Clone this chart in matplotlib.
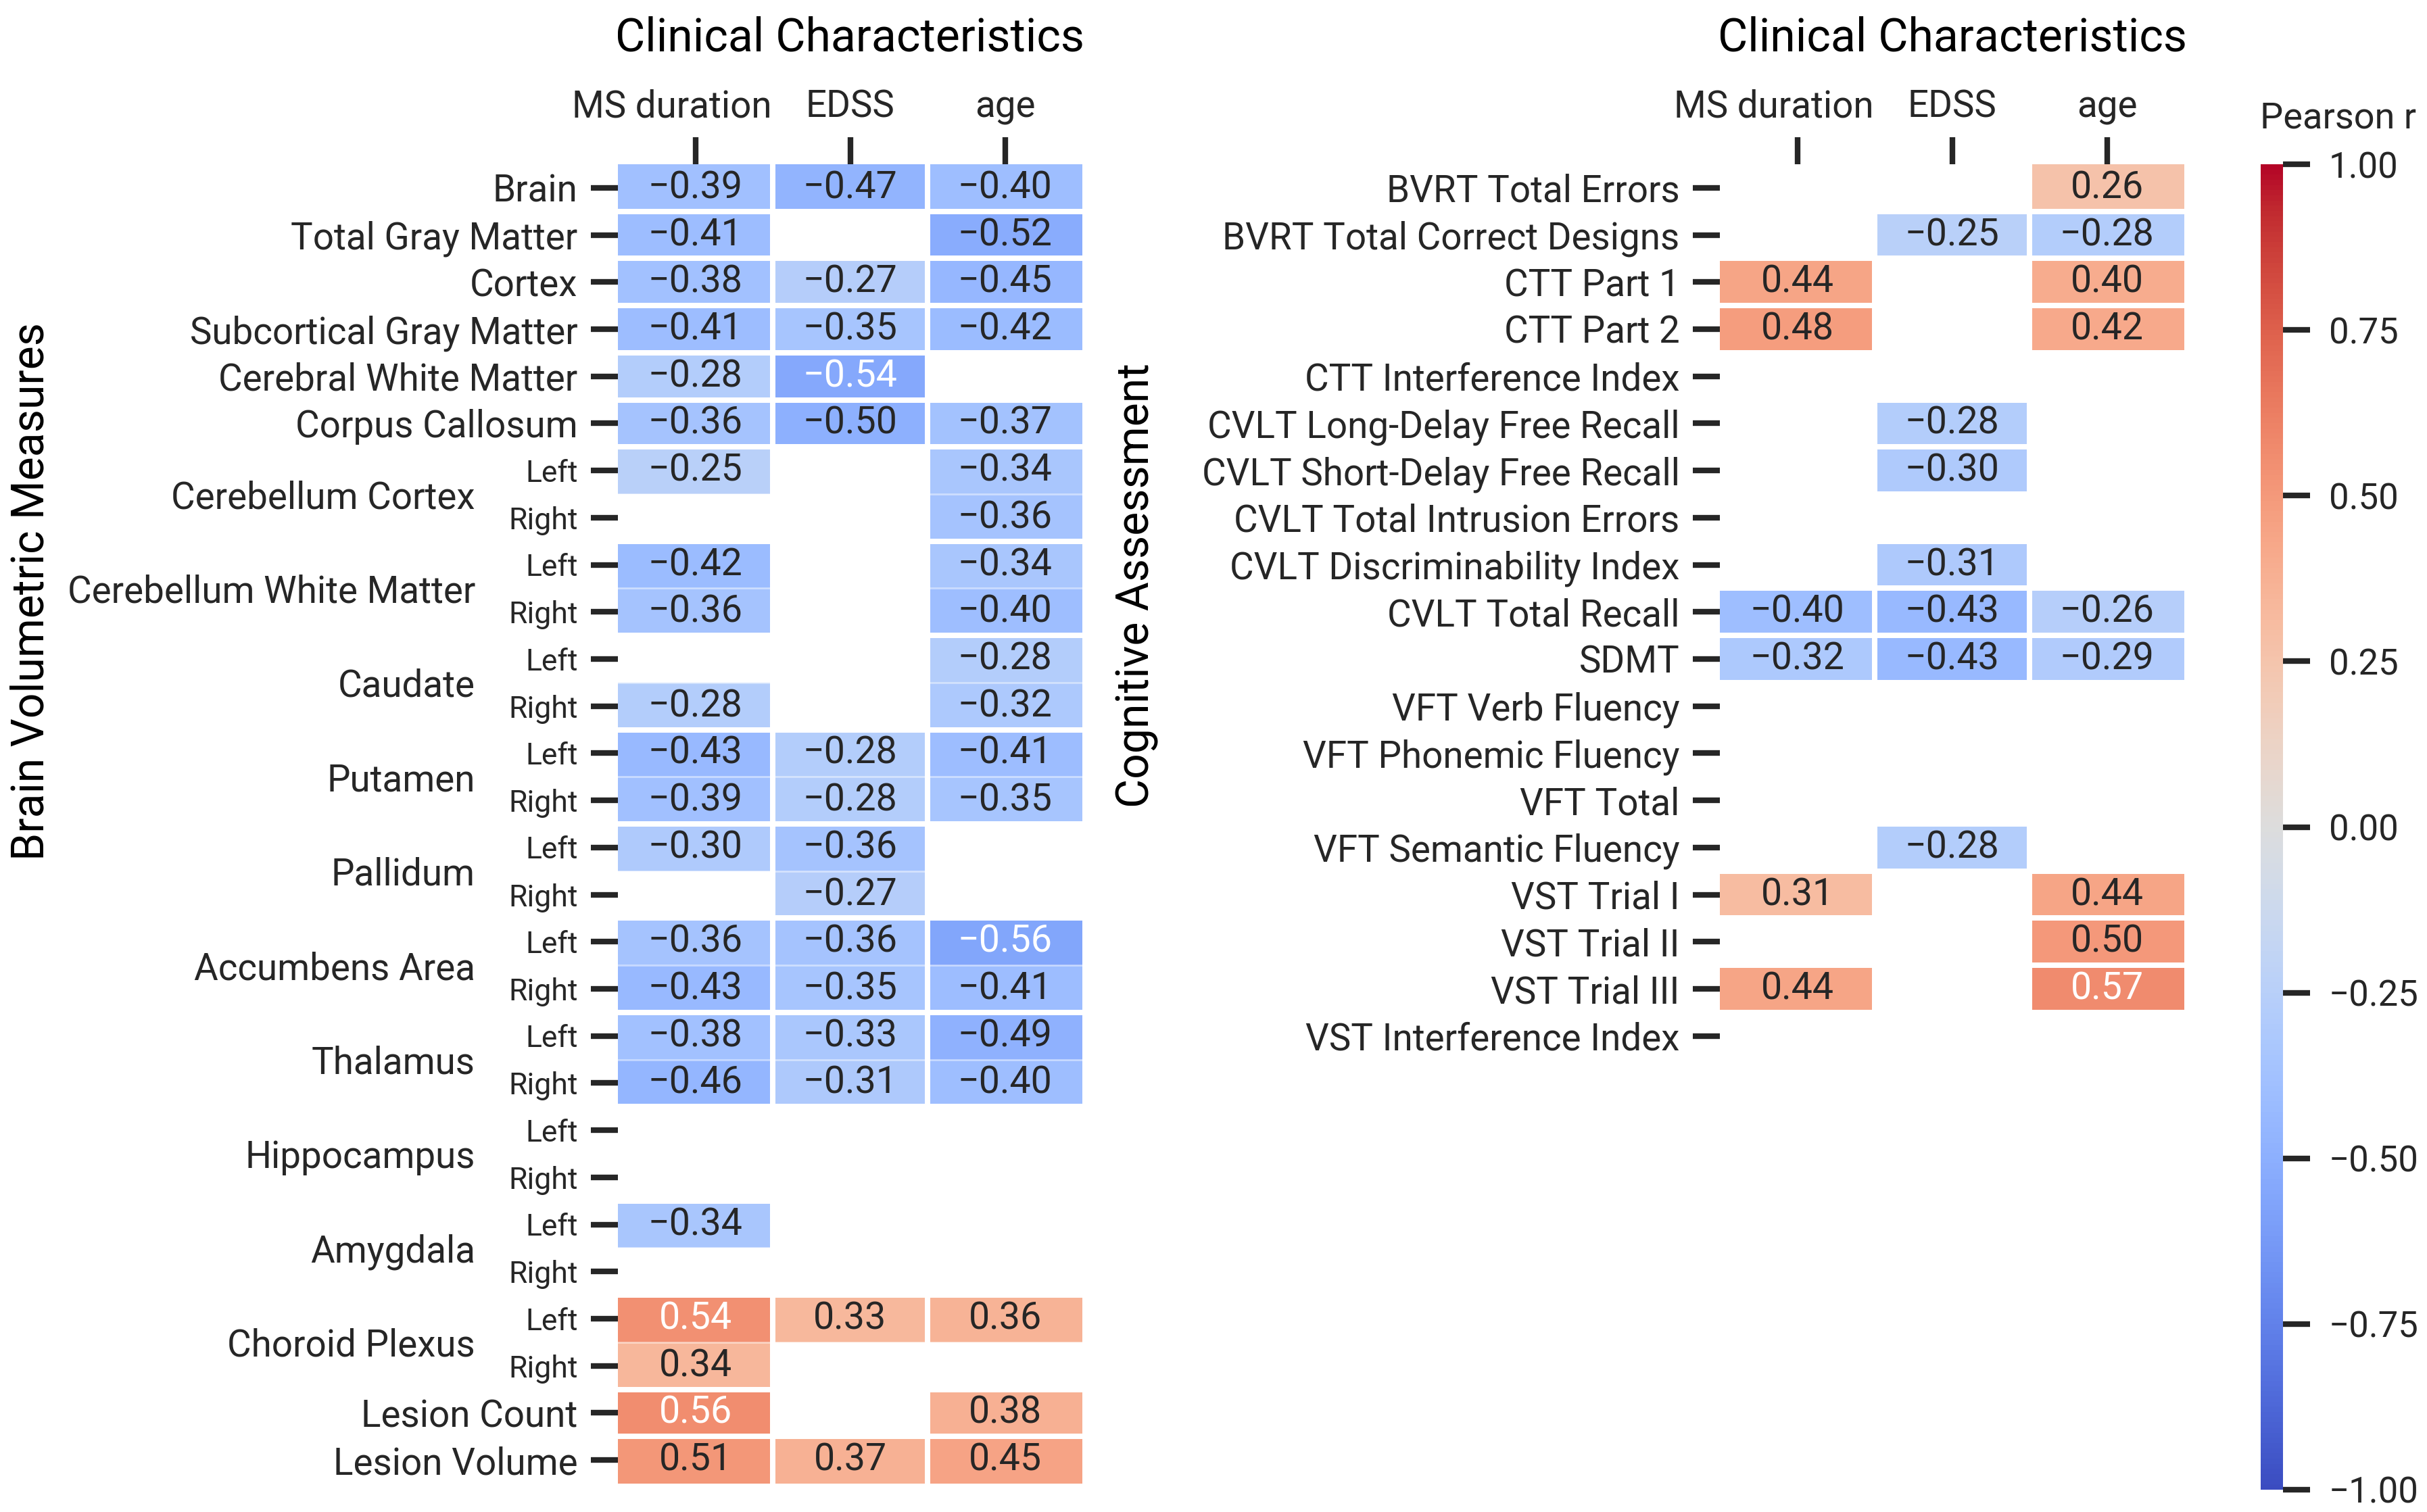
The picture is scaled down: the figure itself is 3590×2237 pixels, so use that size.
import numpy as np
import matplotlib
matplotlib.use('Agg')
import matplotlib.pyplot as plt
from matplotlib.ticker import FuncFormatter
from matplotlib.transforms import ScaledTranslation

nan = np.nan

clin_cols = ['MS duration', 'EDSS', 'age']

# brain volumetric rows: (structure, side)
brain_rows = [
    ('Brain', None), ('Total Gray Matter', None), ('Cortex', None),
    ('Subcortical Gray Matter', None), ('Cerebral White Matter', None),
    ('Corpus Callosum', None),
    ('Cerebellum Cortex', 'Left'), ('Cerebellum Cortex', 'Right'),
    ('Cerebellum White Matter', 'Left'), ('Cerebellum White Matter', 'Right'),
    ('Caudate', 'Left'), ('Caudate', 'Right'),
    ('Putamen', 'Left'), ('Putamen', 'Right'),
    ('Pallidum', 'Left'), ('Pallidum', 'Right'),
    ('Accumbens Area', 'Left'), ('Accumbens Area', 'Right'),
    ('Thalamus', 'Left'), ('Thalamus', 'Right'),
    ('Hippocampus', 'Left'), ('Hippocampus', 'Right'),
    ('Amygdala', 'Left'), ('Amygdala', 'Right'),
    ('Choroid Plexus', 'Left'), ('Choroid Plexus', 'Right'),
    ('Lesion Count', None), ('Lesion Volume', None),
]
brain_ms_duration = [-0.39, -0.41, -0.38, -0.41, -0.28, -0.36, -0.25, nan, -0.42, -0.36,
                     nan, -0.28, -0.43, -0.39, -0.30, nan, -0.36, -0.43, -0.38, -0.46,
                     nan, nan, -0.34, nan, 0.54, 0.34, 0.56, 0.51]
brain_edss = [-0.47, nan, -0.27, -0.35, -0.54, -0.50, nan, nan, nan, nan,
              nan, nan, -0.28, -0.28, -0.36, -0.27, -0.36, -0.35, -0.33, -0.31,
              nan, nan, nan, nan, 0.33, nan, nan, 0.37]
brain_age = [-0.40, -0.52, -0.45, -0.42, nan, -0.37, -0.34, -0.36, -0.34, -0.40,
             -0.28, -0.32, -0.41, -0.35, nan, nan, -0.56, -0.41, -0.49, -0.40,
             nan, nan, nan, nan, 0.36, nan, 0.38, 0.45]

cog_rows = ['BVRT Total Errors', 'BVRT Total Correct Designs', 'CTT Part 1', 'CTT Part 2',
            'CTT Interference Index', 'CVLT Long-Delay Free Recall',
            'CVLT Short-Delay Free Recall', 'CVLT Total Intrusion Errors',
            'CVLT Discriminability Index', 'CVLT Total Recall', 'SDMT',
            'VFT Verb Fluency', 'VFT Phonemic Fluency', 'VFT Total',
            'VFT Semantic Fluency', 'VST Trial I', 'VST Trial II', 'VST Trial III',
            'VST Interference Index']
cog_ms_duration = [nan, nan, 0.44, 0.48, nan, nan, nan, nan, nan, -0.40, -0.32,
                   nan, nan, nan, nan, 0.31, nan, 0.44, nan]
cog_edss = [nan, -0.25, nan, nan, nan, -0.28, -0.30, nan, -0.31, -0.43, -0.43,
            nan, nan, nan, -0.28, nan, nan, nan, nan]
cog_age = [0.26, -0.28, 0.40, 0.42, nan, nan, nan, nan, nan, -0.26, -0.29,
           nan, nan, nan, nan, 0.44, 0.50, 0.57, nan]

cbar_ticks = [-1.0, -0.75, -0.5, -0.25, 0.0, 0.25, 0.5, 0.75, 1.0]

# ---- layout (pixel based) ----
W, H, DPI = 3590, 2237, 200
TXT = '#262626'
plt.rcParams['font.family'] = ['Roboto', 'DejaVu Sans']
plt.rcParams['text.color'] = TXT
plt.rcParams['axes.labelcolor'] = TXT
plt.rcParams['xtick.color'] = TXT
plt.rcParams['ytick.color'] = TXT

FS = 19.7      # tick labels
FS_SIDE = 16   # Left / Right
FS_TITLE = 24.5

fig = plt.figure(figsize=(W / DPI, H / DPI), dpi=DPI)


def px_axes(x0, y0, x1, y1):
    return fig.add_axes((x0 / W, 1 - y1 / H, (x1 - x0) / W, (y1 - y0) / H))


def minus(s):
    return s.replace('-', '\u2212')


GAP = 8 * 72 / DPI  # white gap between cells in points


def draw_panel(ax, cols, groups):
    vals = np.array(cols, dtype=float).T
    n = vals.shape[0]
    mesh = ax.pcolormesh(np.ma.masked_invalid(vals), cmap='coolwarm', vmin=-1, vmax=1)
    ax.set_xlim(0, 3)
    ax.set_ylim(n, 0)
    for x in (1, 2):
        ax.axvline(x, color='white', lw=GAP)
    for i in range(1, n):
        if groups[i] is not None and groups[i] == groups[i - 1]:
            ax.axhline(i, color='white', lw=1.0, alpha=0.45)
        else:
            ax.axhline(i, color='white', lw=GAP)
    for i in range(n):
        for j in range(3):
            v = vals[i, j]
            if np.isnan(v):
                continue
            ax.text(j + 0.5, i + 0.5, minus(f'{v:.2f}'), ha='center', va='center',
                    fontsize=20, color='white' if abs(v) >= 0.535 else TXT)
    for s in ax.spines.values():
        s.set_visible(False)
    ax.xaxis.tick_top()
    ax.set_xticks([0.5, 1.5, 2.5])
    ax.set_xticklabels(clin_cols, fontsize=FS)
    ax.tick_params(axis='x', length=14.4, width=3, pad=6.5)
    ax.set_yticks(np.arange(n) + 0.5)
    ax.tick_params(axis='y', length=14.4, width=3, pad=7)
    return mesh


# left panel: brain volumetric measures
axl = px_axes(914, 243, 1601, 2195)
brain_groups = [g if side else None for g, side in brain_rows]
mesh = draw_panel(axl, [brain_ms_duration, brain_edss, brain_age], brain_groups)
ylabels = axl.set_yticklabels([side if side else g for g, side in brain_rows])
for lab, (g, side) in zip(ylabels, brain_rows):
    lab.set_fontsize(FS_SIDE if side else FS)
for i, (g, side) in enumerate(brain_rows):
    if side == 'Left':
        axl.annotate(g, xy=(0, i + 1), xycoords=('axes fraction', 'data'),
                     xytext=(-211 * 72 / DPI, 0), textcoords='offset points',
                     ha='right', va='center_baseline', fontsize=FS, color=TXT)

# right panel: cognitive assessment
axr = px_axes(2544, 243, 3231, 243 + 19 * (2195 - 243) / 28)
draw_panel(axr, [cog_ms_duration, cog_edss, cog_age], [None] * len(cog_rows))
axr.set_yticklabels(cog_rows, fontsize=FS)

# headers and axis titles
for ax in (axl, axr):
    bb = ax.get_position()
    fig.text((bb.x0 + bb.x1) / 2, 1 - 75 / H, 'Clinical Characteristics',
             ha='center', va='baseline', fontsize=FS_TITLE, color='black')
fig.text(47 / W, 1 - 875 / H, 'Brain Volumetric Measures', rotation=90,
         ha='center', va='center', fontsize=23.8, color='black')
fig.text(1682 / W, 1 - 866 / H, 'Cognitive Assessment', rotation=90,
         ha='center', va='center', fontsize=23.8, color='black')

# colorbar
cax = px_axes(3344, 243, 3377, 2204)
cbar = fig.colorbar(mesh, cax=cax, ticks=cbar_ticks)
cbar.outline.set_visible(False)
cbar.ax.yaxis.set_major_formatter(FuncFormatter(lambda v, p: minus(f'{v:.2f}')))
cbar.ax.tick_params(length=14.4, width=3, pad=10, labelsize=19)
cbar.ax.minorticks_off()
fig.text(3343 / W, 1 - 190 / H, 'Pearson r', ha='left', va='baseline', fontsize=19.5)

# the "MS duration" label sits a little left of its tick in the original
for ax in (axl, axr):
    lab = ax.xaxis.get_major_ticks()[0].label2
    lab.set_transform(lab.get_transform()
                      + ScaledTranslation(-35 / DPI, 0, fig.dpi_scale_trans))

fig.savefig('out.png', dpi=DPI)
